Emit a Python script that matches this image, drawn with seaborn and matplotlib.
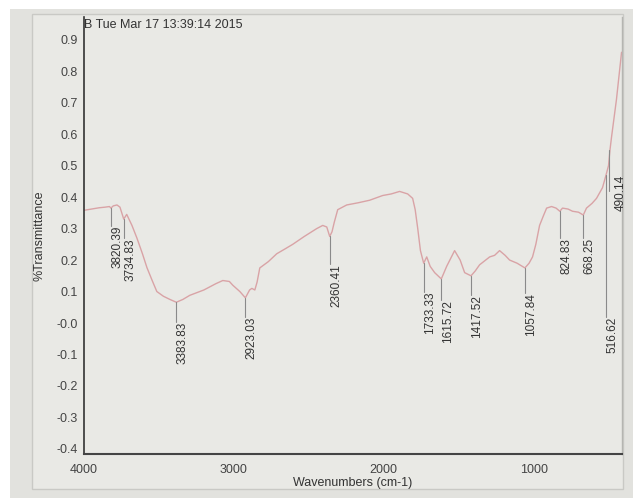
import matplotlib
matplotlib.use("Agg")
import matplotlib.pyplot as plt
import matplotlib.patches as patches
import seaborn as sns
import numpy as np
import pandas as pd

# Spectrum points (wavenumber, %T)
wavenumber = [4000, 3950, 3900, 3860, 3830, 3820.39, 3805, 3780, 3760, 3734.83, 3715,
              3680, 3647, 3610, 3580, 3545, 3514, 3470, 3427, 3383.83, 3340, 3294,
              3200, 3120, 3074, 3030, 3007, 2960, 2923.03, 2895, 2880, 2860, 2845,
              2827, 2770, 2714, 2660, 2607, 2530, 2447, 2407, 2380, 2360.41, 2345,
              2330, 2307, 2247, 2170, 2094, 2007, 1950, 1894, 1840, 1807, 1790,
              1773, 1755, 1733.33, 1713, 1690, 1660, 1615.72, 1580, 1527, 1490,
              1460, 1417.52, 1390, 1360, 1293, 1260, 1227, 1190, 1160, 1110,
              1057.84, 1030, 1007, 985, 960, 935, 913, 880, 850, 824.83, 807, 770,
              740, 700, 668.25, 647, 610, 580, 540, 516.62, 500, 490.14, 480, 447,
              413]
transmittance = [0.358, 0.362, 0.366, 0.368, 0.37, 0.365, 0.372, 0.375, 0.368, 0.33, 0.345,
                 0.31, 0.27, 0.22, 0.176, 0.135, 0.10, 0.085, 0.075, 0.066, 0.075, 0.088,
                 0.105, 0.125, 0.135, 0.132, 0.12, 0.1, 0.08, 0.105, 0.11, 0.105, 0.13,
                 0.175, 0.195, 0.22, 0.235, 0.25, 0.275, 0.30, 0.31, 0.305, 0.275, 0.29,
                 0.32, 0.36, 0.375, 0.382, 0.39, 0.405, 0.41, 0.418, 0.41, 0.396, 0.36,
                 0.30, 0.23, 0.19, 0.21, 0.18, 0.16, 0.14, 0.18, 0.23, 0.20,
                 0.16, 0.15, 0.165, 0.185, 0.21, 0.215, 0.23, 0.215, 0.2, 0.19,
                 0.175, 0.19, 0.21, 0.25, 0.31, 0.34, 0.365, 0.37, 0.365, 0.355, 0.365, 0.362,
                 0.355, 0.352, 0.343, 0.365, 0.38, 0.396, 0.43, 0.47, 0.50, 0.55, 0.59, 0.71,
                 0.86]

# Peak labels
peak_pos = [3820.39, 3734.83, 3383.83, 2923.03, 2360.41, 1733.33, 1615.72,
            1417.52, 1057.84, 824.83, 668.25, 516.62, 490.14]
peak_text = ["3820.39", "3734.83", "3383.83", "2923.03", "2360.41", "1733.33", "1615.72",
             "1417.52", "1057.84", "824.83", "668.25", "516.62", "490.14"]
peak_top = [0.365, 0.33, 0.066, 0.08, 0.275, 0.19, 0.14, 0.15, 0.175, 0.355, 0.343, 0.47, 0.55]
peak_label_y = [0.308, 0.27, 0.003, 0.019, 0.186, 0.10, 0.072, 0.09, 0.094, 0.27, 0.27, 0.019, 0.42]

yticks = [-0.4, -0.3, -0.2, -0.1, 0.0, 0.1, 0.2, 0.3, 0.4, 0.5, 0.6, 0.7, 0.8, 0.9]
ytick_labels = ["-0.4", "-0.3", "-0.2", "-0.1", "-0.0", "0.1", "0.2", "0.3",
                "0.4", "0.5", "0.6", "0.7", "0.8", "0.9"]
xticks = [4000, 3000, 2000, 1000]

sns.set_style("white")
plt.rcParams['font.family'] = ['Liberation Sans', 'DejaVu Sans']

W, H = 633, 498
fig = plt.figure(figsize=(W / 100, H / 100), dpi=100, facecolor="white")

# Photographed paper background and frame
fig.patches.append(patches.Rectangle((10 / W, 0), 1, 1 - 9 / H, transform=fig.transFigure,
                                     facecolor="#e2e2de", edgecolor="none", zorder=-3))
fig.patches.append(patches.Rectangle((32 / W, (H - 489) / H), (623 - 32) / W, (489 - 14) / H,
                                     transform=fig.transFigure, facecolor="#e9e9e5",
                                     edgecolor="#c9c9c5", lw=1.0, zorder=-2))

ax = fig.add_axes([84 / W, (H - 454) / H, (622 - 84) / W, (454 - 17) / H])
ax.set_facecolor("none")

df = pd.DataFrame({"wn": wavenumber, "t": transmittance})
sns.lineplot(data=df, x="wn", y="t", sort=False, estimator=None, color="#d9a3a6", lw=1.0, ax=ax)

# Peak markers
for pos, txt, top, ly in zip(peak_pos, peak_text, peak_top, peak_label_y):
    if txt == "490.14":
        ax.plot([pos + 5, pos + 5], [top, ly], color="#8a8a8a", lw=0.8)
        ax.text(pos - 30, ly + 0.05, txt, rotation=90, ha="left", va="top",
                fontsize=8.5, color="#333333")
    else:
        ax.plot([pos, pos], [top, ly], color="#8a8a8a", lw=0.8)
        ax.text(pos - 3, ly, txt, rotation=90, ha="left", va="top",
                fontsize=8.5, color="#333333")

ax.set_xlim(4000, 410)
ax.set_ylim(-0.416, 0.972)
ax.set_xticks(xticks)
ax.set_xticklabels([str(v) for v in xticks])
ax.set_yticks(yticks)
ax.set_yticklabels(ytick_labels)
ax.tick_params(axis="both", labelsize=9, colors="#444444", length=3, direction="out", width=0.8)
ax.tick_params(axis="y", pad=1.5)
ax.tick_params(axis="x", pad=4)

ax.spines["top"].set_visible(False)
ax.spines["left"].set_color("#333333")
ax.spines["bottom"].set_color("#444444")
ax.spines["left"].set_linewidth(1.2)
ax.spines["bottom"].set_linewidth(1.5)
ax.spines["right"].set_color("#b5b5b1")
ax.spines["right"].set_linewidth(1.0)

ax.set_xlabel("Wavenumbers (cm-1)", fontsize=9, color="#333333", labelpad=1)
ax.set_ylabel("%Transmittance", fontsize=9, color="#333333", labelpad=8)
ax.text(0.0, 0.995, "B Tue Mar 17 13:39:14 2015", transform=ax.transAxes, ha="left", va="top",
        fontsize=9, color="#333333")

fig.savefig("out.png", dpi=100, facecolor=fig.get_facecolor())
